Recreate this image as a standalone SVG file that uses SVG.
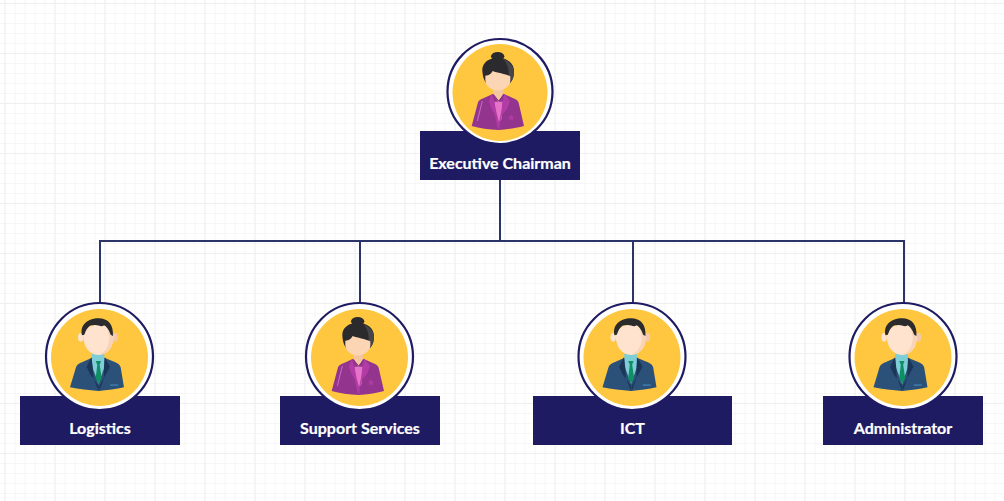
<svg xmlns="http://www.w3.org/2000/svg" width="1004" height="501" viewBox="0 0 1004 501">
<style>
.box{fill:#1f1b62}
.ring{fill:#fff;stroke:#1f1b62;stroke-width:2.2}
.sun{fill:#ffc740}
.lbl{font-family:Lato,"Liberation Sans",sans-serif;font-weight:700;font-size:16px;fill:#fff;stroke:#fff;stroke-width:.2;text-anchor:middle}
.conn{fill:none;stroke:#2a3468;stroke-width:2}
</style>
<defs>
<pattern id="gridMinor" width="10" height="10" patternUnits="userSpaceOnUse" x="0" y="-2">
<path d="M5 0V10M0 5.5H10" fill="none" stroke="#f6f6f6" stroke-width="1"/>
</pattern>
<pattern id="gridMajor" width="50" height="50" patternUnits="userSpaceOnUse" x="0" y="-2">
<path d="M5 0V50M0 5.5H50" fill="none" stroke="#efefef" stroke-width="1"/>
</pattern>
<g id="woman" transform="scale(.3333)">
<ellipse cx="143" cy="34" rx="20" ry="13" fill="#2b2b2d"/>
<path d="M97 78C95 54 116 38 143 38C171 38 193 54 192 80C192 94 188 106 180 114L108 114C101 104 98 92 97 78Z" fill="#2b2b2d"/>
<path d="M160 42C178 50 192 64 192 80C192 94 188 106 180 114L174 104C180 80 174 58 160 42Z" fill="#45454a"/>
<path d="M130 125H160V168L145 182L130 168Z" fill="#f3c6a0"/>
<path d="M106 92C118 92 124 86 128 78C142 84 165 86 181 94V104C181 122 165 136 143 136C122 136 106 122 106 104Z" fill="#fcd6b4"/>
<path d="M65 243L84 172C86 166 92 163 100 160L130 146L145 170L160 146L190 160C198 163 204 167 206 173L222 243C198 250 170 253 146 255C118 253 88 250 65 243Z" fill="#93358f"/>
<path d="M133 170H158L155 222L147 232L140 222Z" fill="#e773c8"/>
<path d="M126 146L117 168L122 186L134 208L143 248L147 254V232L140 205L133 172Z" fill="#b23ba6"/>
<path d="M162 146L180 168L172 190L156 210L150 232L147 254V232L153 205L158 172Z" fill="#b23ba6"/>
<path d="M131 150L146 168L161 150" fill="none" stroke="#8a2a82" stroke-width="3"/>
<path d="M183 208l3 6 6 1-4 5 2 6-7-3-6 3 2-6-4-5 6-1z" fill="#b23ba6"/>
<path d="M97 168L82 228" stroke="#c76cc4" stroke-width="3" fill="none"/>
</g>
<g id="man" transform="scale(.3333)">
<ellipse cx="92" cy="82" rx="8" ry="13" fill="#ffe3cf"/>
<ellipse cx="195" cy="82" rx="8" ry="13" fill="#f4c9ab"/>
<path d="M60 232L78 172C80 164 88 160 96 157L126 143H163L196 157C204 160 210 165 212 172L222 232C200 238 170 241 146 243C118 241 85 238 60 232Z" fill="#2b5178"/>
<path d="M125 132H163V172L146 222L127 172Z" fill="#7fcdd6"/>
<path d="M137 153H153L149 164L155 205L146 220L137 205L142 164Z" fill="#0e8f64"/>
<path d="M124 142L110 170L120 192L146 228V242L130 205L128 170Z" fill="#1c3657"/>
<path d="M165 142L180 170L168 192L148 228V242L162 205L162 170Z" fill="#1c3657"/>
<path d="M181 223H205V227L181 228Z" fill="#3f78a8"/>
<path d="M100 78C100 58 120 44 146 44C172 44 190 58 190 82C190 112 172 135 146 135C118 135 100 110 100 78Z" fill="#ffe3cf"/>
<path d="M172 56C184 64 190 72 190 82C190 112 172 135 146 135C164 128 178 110 178 82Z" fill="#f8d3b8"/>
<path d="M96 76C89 46 112 25 146 25C174 25 191 44 189 78L182 74C176 58 170 50 162 46C154 54 142 42 130 46C122 44 112 48 103 74Z" fill="#2b2b2d"/>
</g>
</defs>
<rect width="1004" height="501" fill="#fff"/>
<rect width="1004" height="501" fill="url(#gridMinor)"/>
<rect width="1004" height="501" fill="url(#gridMajor)"/>
<g id="connectors">
<path class="conn" d="M500 180V241M100 303V241H904V303M360 241V303M633 241V303"/>
</g>
<g id="node-executive-chairman">
<rect class="box" x="420" y="131" width="160" height="49"/>
<circle class="ring" cx="500" cy="91.5" r="52.5"/>
<ellipse class="sun" cx="500" cy="92.5" rx="47.5" ry="48.5"/>
<use href="#woman" x="450" y="45"/>
<text class="lbl" x="500" y="168.5">Executive Chairman</text>
</g>
<g id="node-logistics">
<rect class="box" x="20" y="396" width="160" height="49"/>
<circle class="ring" cx="99.5" cy="356.5" r="53.5"/>
<circle class="sun" cx="99.5" cy="357.5" r="48.5"/>
<use href="#man" x="50" y="310"/>
<text class="lbl" x="100" y="433.5">Logistics</text>
</g>
<g id="node-support-services">
<rect class="box" x="280" y="396" width="160" height="49"/>
<circle class="ring" cx="359.5" cy="356.5" r="53.5"/>
<circle class="sun" cx="359.5" cy="357.5" r="48.5"/>
<use href="#woman" x="310" y="310"/>
<text class="lbl" x="360" y="433.5">Support Services</text>
</g>
<g id="node-ict">
<rect class="box" x="533" y="396" width="199" height="49"/>
<circle class="ring" cx="632" cy="356.5" r="53.5"/>
<circle class="sun" cx="632" cy="357.5" r="48.5"/>
<use href="#man" x="582.5" y="310"/>
<text class="lbl" x="632.5" y="433.5">ICT</text>
</g>
<g id="node-administrator">
<rect class="box" x="823" y="396" width="160" height="49"/>
<circle class="ring" cx="903" cy="356.5" r="53.5"/>
<circle class="sun" cx="903" cy="357.5" r="48.5"/>
<use href="#man" x="853.5" y="310"/>
<text class="lbl" x="903" y="433.5">Administrator</text>
</g>
</svg>
